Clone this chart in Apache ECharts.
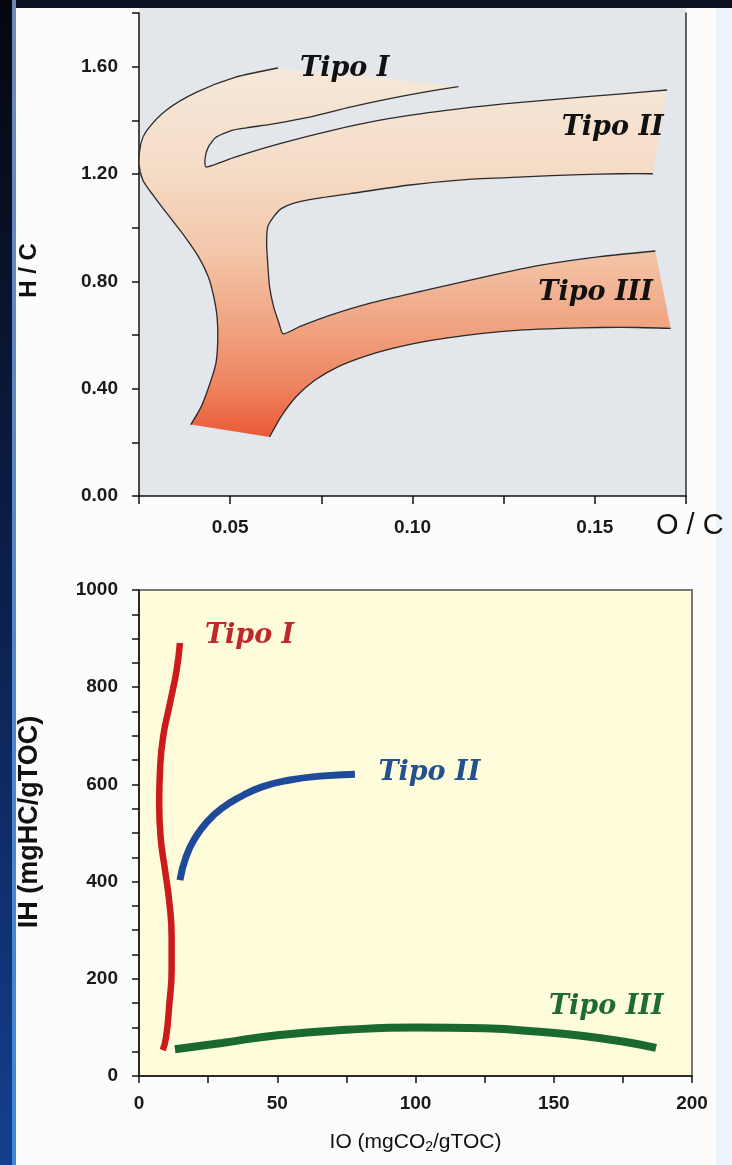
<!DOCTYPE html>
<html><head><meta charset="utf-8">
<script src="https://cdn.jsdelivr.net/npm/echarts@6/dist/echarts.min.js"></script>
<style>html,body{margin:0;padding:0;background:#fbfcfb;}#c{width:732px;height:1165px;}</style>
</head><body><div id="c"></div>
<script>
// ---------- Top chart: H/C vs O/C (van Krevelen) ----------
// outline pieces, values as [O/C, H/C]
const outerEdge = [[0.0631,1.595],[0.0513,1.560],[0.0408,1.505],[0.0324,1.437],[0.0271,1.362],[0.0255,1.313],[0.0250,1.238],[0.0261,1.176],[0.0292,1.115],[0.0334,1.040],[0.0376,0.966],[0.0413,0.892],[0.0440,0.817],[0.0455,0.743],[0.0464,0.669],[0.0466,0.582],[0.0461,0.495],[0.0445,0.421],[0.0421,0.334],[0.0392,0.266]];
const typeIIILower = [[0.0608,0.220],[0.0640,0.297],[0.0682,0.372],[0.0734,0.433],[0.0798,0.483],[0.0882,0.526],[0.0987,0.563],[0.1092,0.588],[0.1198,0.607],[0.1303,0.619],[0.1408,0.625],[0.1514,0.628],[0.1619,0.628],[0.1708,0.625]];
const typeIIIUpperIILower = [[0.1666,0.913],[0.1514,0.892],[0.1356,0.861],[0.1198,0.817],[0.1040,0.768],[0.0882,0.718],[0.0777,0.675],[0.0692,0.632],[0.0645,0.604],[0.0634,0.644],[0.0619,0.706],[0.0608,0.780],[0.0603,0.867],[0.0600,0.941],[0.0603,1.003],[0.0619,1.040],[0.0640,1.071],[0.0671,1.090],[0.0734,1.108],[0.0829,1.127],[0.0987,1.158],[0.1145,1.179],[0.1303,1.189],[0.1461,1.198],[0.1566,1.201],[0.1659,1.201]];
const typeIIUpperILower = [[0.1698,1.513],[0.1566,1.498],[0.1408,1.480],[0.1250,1.461],[0.1092,1.437],[0.0934,1.406],[0.0777,1.362],[0.0619,1.307],[0.0513,1.263],[0.0434,1.226],[0.0431,1.257],[0.0440,1.300],[0.0461,1.337],[0.0503,1.362],[0.0545,1.372],[0.0619,1.387],[0.0724,1.414],[0.0829,1.449],[0.0934,1.480],[0.1040,1.507],[0.1126,1.526]];
const typeITopFill = [[0.1126,1.526],[0.100,1.545],[0.085,1.566],[0.0631,1.595]];
const topLabelNames = ['Tipo I','Tipo II','Tipo III'];
const topLabelPos = [[0.0814,1.590],[0.1549,1.373],[0.1502,0.757]];
const ocTickLabels = [0.05,0.10,0.15];
const hcTickLabels = [0,0.4,0.8,1.2,1.6];

// ---------- Bottom chart: IH vs IO ----------
const tipoI = [[14.8,891],[13.6,835],[11.2,767],[8.7,697],[7.6,630],[7.3,562],[7.8,492],[9.4,424],[11.0,356],[11.8,286],[11.8,218],[11.0,150],[9.8,80],[8.6,53]];
const tipoII = [[14.8,403],[17.0,451],[20.3,490],[24.6,523],[30.0,551],[36.5,574],[44.5,595],[54.6,609],[65.5,617],[78.1,621]];
const tipoIII = [[13,55],[30,68],[50,84],[75,95],[100,100],[125,98],[145,91],[160,83],[175,71],[187,58]];
const botLabelNames = ['Tipo I','Tipo II','Tipo III'];
const botLabelPos = [[40,905],[105,623],[169,142]];
const botLabelColors = ['#c0272b','#23508f','#1e6b35'];

const near = (v, step) => Math.abs(v/step - Math.round(v/step)) < 1e-6;
const tickFont = {fontFamily:'Liberation Sans', fontWeight:'bold', fontSize:19, color:'#1a1a1a'};
const labelFont = 'italic bold 27px "DejaVu Serif"';

const chart = echarts.init(document.getElementById('c'));
chart.setOption({
  backgroundColor:'#fbfcfb',
  animation:false,
  graphic:[
    {type:'rect', shape:{x:139,y:6,width:547,height:8}, style:{fill:'#e3e6ea'}, z:-10},
    {type:'rect', shape:{x:0,y:0,width:732,height:8}, style:{fill:'#0b1222'}, z:10},
    {type:'rect', shape:{x:0,y:0,width:12,height:1165}, style:{fill:new echarts.graphic.LinearGradient(0,0,0,1,[{offset:0,color:'#05070d'},{offset:0.5,color:'#0c1f4c'},{offset:1,color:'#143f8f'}])}, z:10},
    {type:'rect', shape:{x:12,y:0,width:4,height:1165}, style:{fill:new echarts.graphic.LinearGradient(0,0,0,1,[{offset:0,color:'#6d88b8'},{offset:1,color:'#3d86d6'}])}, z:10},
    {type:'rect', shape:{x:716,y:8,width:16,height:1157}, style:{fill:'#eef5fa'}, z:-10},
    {type:'text', x:656, y:511, style:{text:'O / C', font:'29px "Liberation Sans"', fill:'#111'}}
  ],
  grid:[
    {left:139, right:46, top:13, bottom:669, show:true, backgroundColor:'#e3e6ea', borderWidth:0},
    {left:139, right:40, top:590, bottom:89, show:true, backgroundColor:'#fefcda', borderColor:'#7a7a72', borderWidth:2}
  ],
  xAxis:[
    {gridIndex:0, type:'value', min:0.025, max:0.175, interval:0.025,
     axisLine:{lineStyle:{color:'#111',width:1.5}}, axisTick:{length:8,lineStyle:{color:'#111',width:1.5}},
     splitLine:{show:false},
     axisLabel:Object.assign({margin:22, formatter:v => ocTickLabels.some(t=>Math.abs(t-v)<1e-9) ? v.toFixed(2) : ''}, tickFont)},
    {gridIndex:1, type:'value', min:0, max:200, interval:25,
     axisLine:{lineStyle:{color:'#111',width:1.5}}, axisTick:{length:7,lineStyle:{color:'#111',width:1.5}},
     splitLine:{show:false},
     axisLabel:Object.assign({margin:18, formatter:v => near(v,50) ? String(v) : ''}, tickFont),
     name:'IO (mgCO{s|2}/gTOC)', nameLocation:'middle', nameGap:54,
     nameTextStyle:{fontFamily:'Liberation Sans', fontSize:21, color:'#111', rich:{s:{fontFamily:'Liberation Sans', fontSize:14, color:'#111', padding:[10,0,0,0]}}}}
  ],
  yAxis:[
    {gridIndex:0, type:'value', min:0, max:1.8, interval:0.2,
     axisLine:{lineStyle:{color:'#111',width:1.5}}, axisTick:{length:7,lineStyle:{color:'#111',width:1.5}},
     splitLine:{show:false},
     axisLabel:Object.assign({margin:21, formatter:v => hcTickLabels.some(t=>Math.abs(t-v)<1e-9) ? v.toFixed(2) : ''}, tickFont),
     name:'H / C', nameLocation:'middle', nameRotate:90, nameGap:98,
     nameTextStyle:{fontFamily:'Liberation Sans', fontWeight:'bold', fontSize:24, color:'#111', padding:[0,32,0,0]}},
    {gridIndex:0, type:'value', position:'right', min:0, max:1.8,
     axisLine:{show:true, lineStyle:{color:'#333',width:1.5}}, axisTick:{show:false}, axisLabel:{show:false}, splitLine:{show:false}},
    {gridIndex:1, type:'value', min:0, max:1000, interval:50,
     axisLine:{lineStyle:{color:'#111',width:1.5}}, axisTick:{length:7,lineStyle:{color:'#111',width:1.5}},
     splitLine:{show:false},
     axisLabel:Object.assign({margin:21, formatter:v => near(v,200) ? String(v) : ''}, tickFont),
     name:'IH (mgHC/gTOC)', nameLocation:'middle', nameRotate:90, nameGap:96,
     nameTextStyle:{fontFamily:'Liberation Sans', fontWeight:'bold', fontSize:27, color:'#111', padding:[0,0,0,22]}}
  ],
  series:[
    {type:'custom', xAxisIndex:0, yAxisIndex:0, data:[[0.1,1]], silent:true, clip:false, z:2,
     renderItem:function(params, api){
       const px = arr => arr.map(p => api.coord(p));
       const all = [].concat(outerEdge, typeIIILower, typeIIIUpperIILower, typeIIUpperILower, typeITopFill);
       const yTop = api.coord([0.1,1.6])[1], yBot = api.coord([0.1,0.22])[1];
       const grad = new echarts.graphic.LinearGradient(0,yTop,0,yBot,[
         {offset:0,color:'#f6e9da'},{offset:0.28,color:'#f5dcc7'},{offset:0.5,color:'#f3c6a9'},
         {offset:0.72,color:'#f0a07d'},{offset:0.86,color:'#ee8460'},{offset:1,color:'#ea5a37'}], true);
       const stroke = {stroke:'#2b2b2b', lineWidth:1.3, fill:null};
       return {type:'group', children:[
         {type:'polygon', shape:{points:px(all)}, style:{fill:grad}},
         {type:'polyline', shape:{points:px(outerEdge), smooth:0.25}, style:stroke},
         {type:'polyline', shape:{points:px(typeIIILower), smooth:0.25}, style:stroke},
         {type:'polyline', shape:{points:px(typeIIIUpperIILower), smooth:0.2}, style:stroke},
         {type:'polyline', shape:{points:px(typeIIUpperILower), smooth:0.2}, style:stroke}
       ]};
     }},
    {type:'custom', xAxisIndex:0, yAxisIndex:0, data:topLabelPos, silent:true, clip:false, z:5,
     renderItem:function(params, api){
       const p = api.coord([api.value(0), api.value(1)]);
       return {type:'text', x:p[0], y:p[1], style:{text:topLabelNames[params.dataIndex], font:labelFont, fill:'#111', align:'center', verticalAlign:'middle'}};
     }},
    {type:'line', xAxisIndex:1, yAxisIndex:2, data:tipoI, smooth:true, showSymbol:false, symbol:'none', lineStyle:{color:'#cc1b1b', width:6.5}},
    {type:'line', xAxisIndex:1, yAxisIndex:2, data:tipoII, smooth:true, showSymbol:false, symbol:'none', lineStyle:{color:'#1f4a9a', width:7}},
    {type:'line', xAxisIndex:1, yAxisIndex:2, data:tipoIII, smooth:true, showSymbol:false, symbol:'none', lineStyle:{color:'#1a6a2f', width:8}},
    {type:'custom', xAxisIndex:1, yAxisIndex:2, data:botLabelPos, silent:true, clip:false, z:5,
     renderItem:function(params, api){
       const p = api.coord([api.value(0), api.value(1)]);
       return {type:'text', x:p[0], y:p[1], style:{text:botLabelNames[params.dataIndex], font:labelFont, fill:botLabelColors[params.dataIndex], align:'center', verticalAlign:'middle'}};
     }}
  ]
});
</script></body></html>
